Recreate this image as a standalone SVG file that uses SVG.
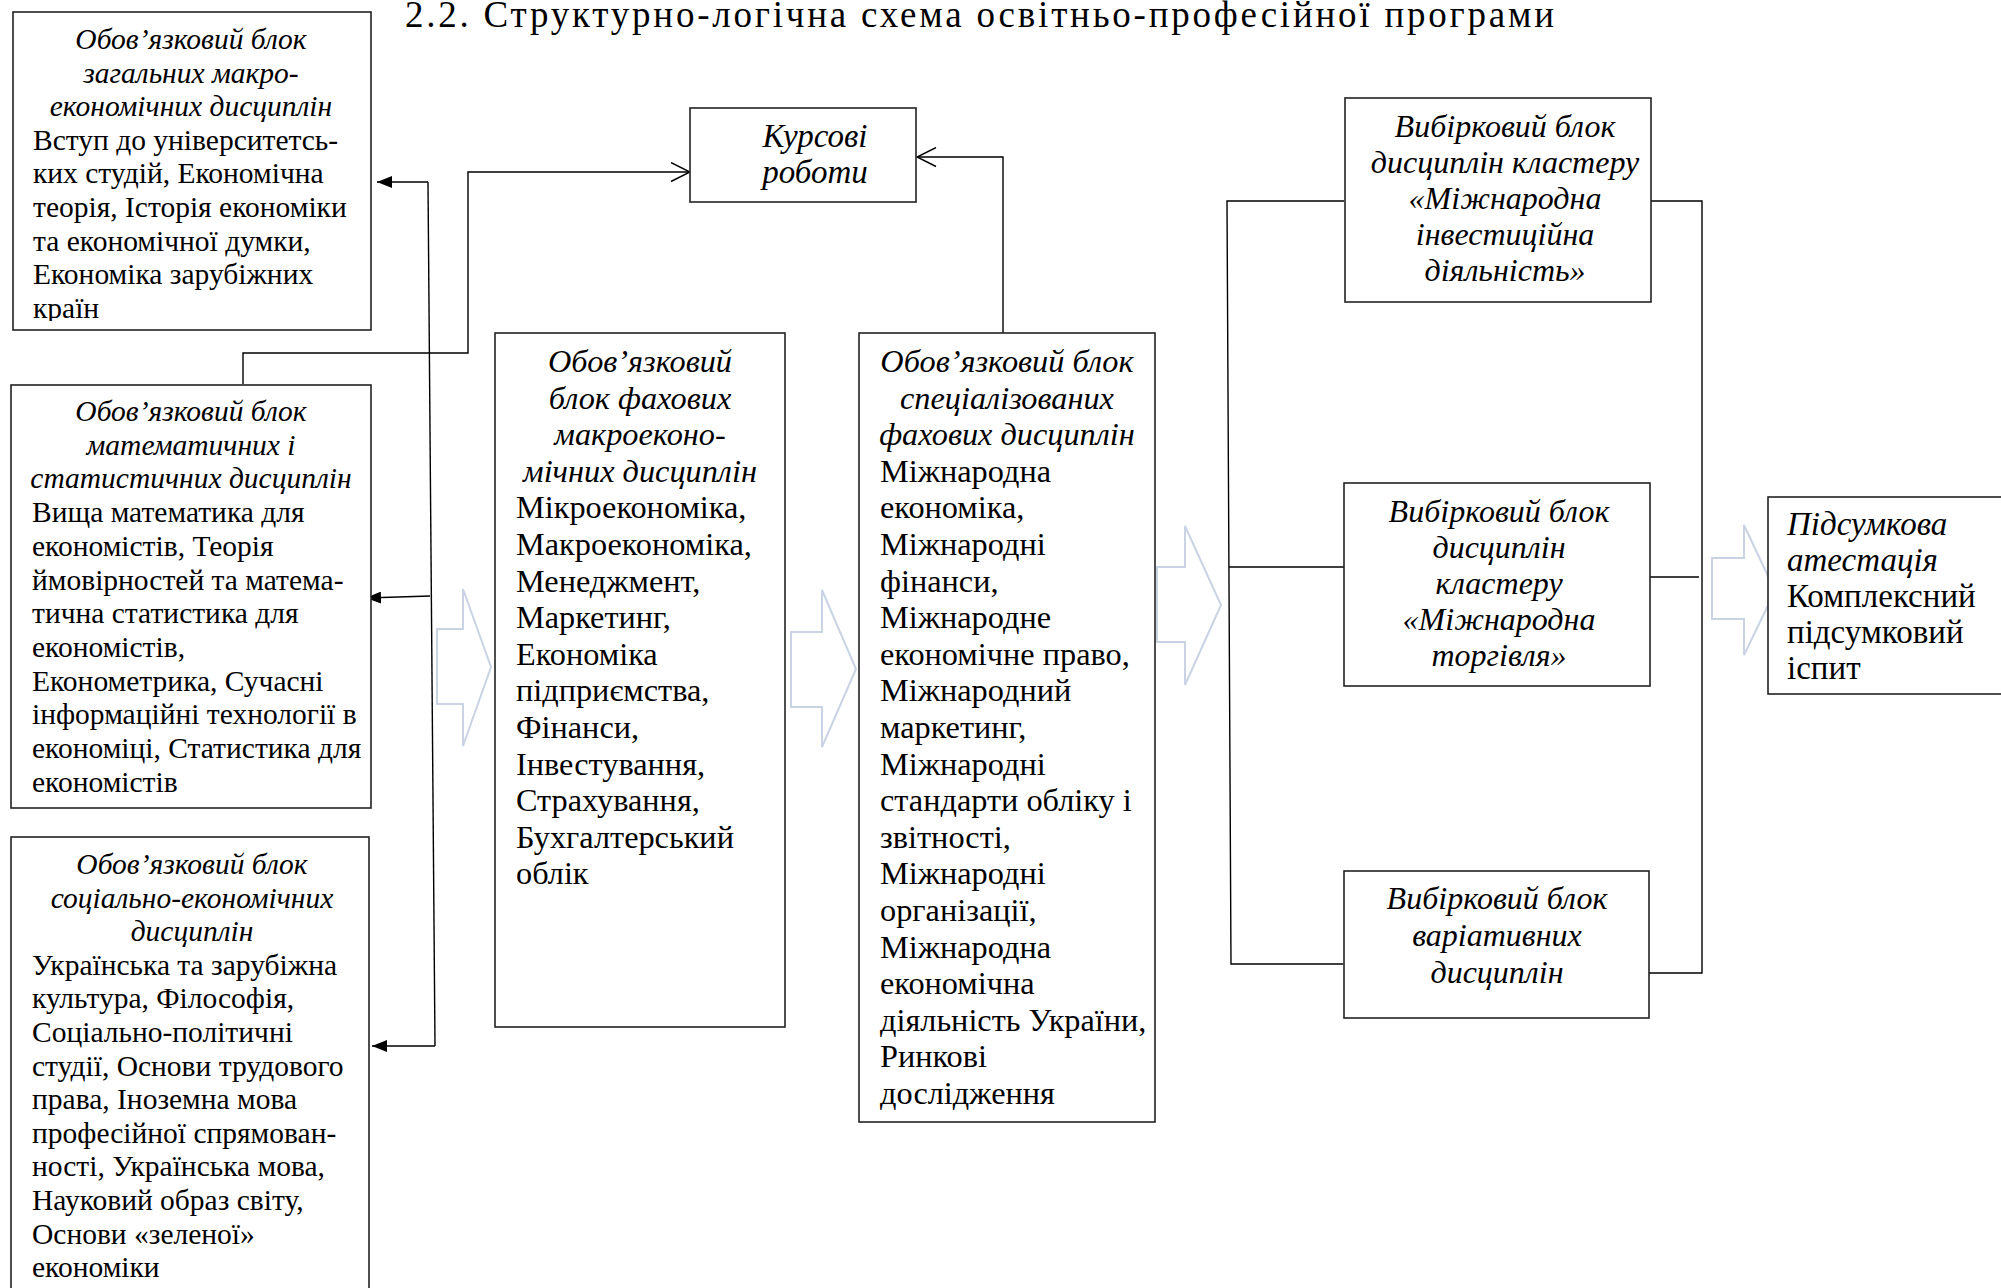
<svg xmlns="http://www.w3.org/2000/svg" width="2001" height="1288" viewBox="0 0 2001 1288">
<style>
.box{fill:#fff;stroke:#222;stroke-width:1.6}
.t{font-family:"Liberation Serif","Times New Roman",serif;fill:#000}
.s{font-size:29.5px}
.m{font-size:32.3px}
.r{font-size:32px}
.l{font-size:33px}
.i{font-style:italic}
.c{text-anchor:middle}
.ln{fill:none;stroke:#000;stroke-width:1.4}
.blk{fill:#fff;stroke:#c9d3e3;stroke-width:2}
</style>
<defs>
<marker id="fa" markerUnits="userSpaceOnUse" viewBox="0 0 15 12" refX="15" refY="6" markerWidth="15" markerHeight="12" orient="auto">
<path d="M0,0 L15,6 L0,12 z" fill="#000"/>
</marker>
<marker id="oa" markerUnits="userSpaceOnUse" viewBox="-1 -1 21 21" refX="19" refY="9.5" markerWidth="21" markerHeight="21" orient="auto">
<path d="M0,0 L19,9.5 L0,19" fill="none" stroke="#000" stroke-width="1.4"/>
</marker>
<clipPath id="clip1"><rect x="0" y="0" width="400" height="321"/></clipPath>
</defs>

<text class="t" x="405" y="27" font-size="37" textLength="1149" lengthAdjust="spacing">2.2. Структурно-логічна схема освітньо-професійної програми</text>

<g id="block-arrows">
<path class="blk" d="M437,629 L463,629 L463,589 L491,667 L463,746 L463,704 L437,704 Z"/>
<path class="blk" d="M791,632 L822,632 L822,590 L856,669 L822,747 L822,707 L791,707 Z"/>
<path class="blk" d="M1157,567 L1185,567 L1185,526 L1221,605 L1185,685 L1185,642 L1157,642 Z"/>
<path class="blk" d="M1712,558 L1744,558 L1744,525 L1775,591 L1744,655 L1744,619 L1712,619 Z"/>
</g>

<g id="connectors">
<path class="ln" d="M243,384 L243,353 L468,353 L468,172 L690,172" marker-end="url(#oa)"/>
<path class="ln" d="M1003,333 L1003,157 L917,157" marker-end="url(#oa)"/>
<path class="ln" d="M428,182 L435,1046"/>
<path class="ln" d="M428,182 L377,182" marker-end="url(#fa)"/>
<path class="ln" d="M430,596 L366,598" marker-end="url(#fa)"/>
<path class="ln" d="M435,1046 L372,1046" marker-end="url(#fa)"/>
<path class="ln" d="M1344,201 L1227,201 L1231,964 L1343,964"/>
<path class="ln" d="M1229,567 L1344,567"/>
<path class="ln" d="M1651,201 L1702,201 L1702,973 L1649,973"/>
<path class="ln" d="M1647,577 L1699,577"/>
</g>

<g id="node-macro-general">
<rect class="box" x="13" y="12" width="358" height="318"/>
<g clip-path="url(#clip1)">
<text class="t s i c" x="191" y="49">Обов’язковий блок</text>
<text class="t s i c" x="191" y="82.6">загальних макро-</text>
<text class="t s i c" x="191" y="116.2">економічних дисциплін</text>
<text class="t s" x="33" y="149.8">Вступ до університетсь-</text>
<text class="t s" x="33" y="183.4">ких студій, Економічна</text>
<text class="t s" x="33" y="217">теорія, Історія економіки</text>
<text class="t s" x="33" y="250.6">та економічної думки,</text>
<text class="t s" x="33" y="284.2">Економіка зарубіжних</text>
<text class="t s" x="33" y="317.8">країн</text>
</g>
</g>

<g id="node-math">
<rect class="box" x="11" y="385" width="360" height="423"/>
<text class="t s i c" x="191" y="421">Обов’язковий блок</text>
<text class="t s i c" x="191" y="454.7">математичних і</text>
<text class="t s i c" x="191" y="488.4">статистичних дисциплін</text>
<text class="t s" x="32" y="522.1">Вища математика для</text>
<text class="t s" x="32" y="555.8">економістів, Теорія</text>
<text class="t s" x="32" y="589.5">ймовірностей та  матема-</text>
<text class="t s" x="32" y="623.2">тична статистика для</text>
<text class="t s" x="32" y="656.9">економістів,</text>
<text class="t s" x="32" y="690.6">Економетрика, Сучасні</text>
<text class="t s" x="32" y="724.3">інформаційні технології в</text>
<text class="t s" x="32" y="758">економіці, Статистика для</text>
<text class="t s" x="32" y="791.7">економістів</text>
</g>

<g id="node-social">
<rect class="box" x="11" y="837" width="358" height="470"/>
<text class="t s i c" x="192" y="874">Обов’язковий блок</text>
<text class="t s i c" x="192" y="907.6">соціально-економічних</text>
<text class="t s i c" x="192" y="941.2">дисциплін</text>
<text class="t s" x="32" y="974.8">Українська та зарубіжна</text>
<text class="t s" x="32" y="1008.4">культура, Філософія,</text>
<text class="t s" x="32" y="1042">Соціально-політичні</text>
<text class="t s" x="32" y="1075.6">студії, Основи трудового</text>
<text class="t s" x="32" y="1109.2">права, Іноземна мова</text>
<text class="t s" x="32" y="1142.8">професійної спрямован-</text>
<text class="t s" x="32" y="1176.4">ності, Українська мова,</text>
<text class="t s" x="32" y="1210">Науковий образ світу,</text>
<text class="t s" x="32" y="1243.6">Основи «зеленої»</text>
<text class="t s" x="32" y="1277.2">економіки</text>
</g>

<g id="node-coursework">
<rect class="box" x="690" y="108" width="226" height="94"/>
<text class="t l i c" x="815" y="147">Курсові</text>
<text class="t l i c" x="815" y="183">роботи</text>
</g>

<g id="node-professional">
<rect class="box" x="495" y="333" width="290" height="694"/>
<text class="t m i c" x="640" y="372">Обов’язковий</text>
<text class="t m i c" x="640" y="408.6">блок фахових</text>
<text class="t m i c" x="640" y="445.2">макроеконо-</text>
<text class="t m i c" x="640" y="481.8">мічних дисциплін</text>
<text class="t m" x="516" y="518.4">Мікроекономіка,</text>
<text class="t m" x="516" y="555">Макроекономіка,</text>
<text class="t m" x="516" y="591.6">Менеджмент,</text>
<text class="t m" x="516" y="628.2">Маркетинг,</text>
<text class="t m" x="516" y="664.8">Економіка</text>
<text class="t m" x="516" y="701.4">підприємства,</text>
<text class="t m" x="516" y="738">Фінанси,</text>
<text class="t m" x="516" y="774.6">Інвестування,</text>
<text class="t m" x="516" y="811.2">Страхування,</text>
<text class="t m" x="516" y="847.8">Бухгалтерський</text>
<text class="t m" x="516" y="884.4">облік</text>
</g>

<g id="node-specialized">
<rect class="box" x="859" y="333" width="296" height="789"/>
<text class="t m i c" x="1007" y="372">Обов’язковий блок</text>
<text class="t m i c" x="1007" y="408.6">спеціалізованих</text>
<text class="t m i c" x="1007" y="445.2">фахових дисциплін</text>
<text class="t m" x="880" y="481.8">Міжнародна</text>
<text class="t m" x="880" y="518.4">економіка,</text>
<text class="t m" x="880" y="555">Міжнародні</text>
<text class="t m" x="880" y="591.6">фінанси,</text>
<text class="t m" x="880" y="628.2">Міжнародне</text>
<text class="t m" x="880" y="664.8">економічне право,</text>
<text class="t m" x="880" y="701.4">Міжнародний</text>
<text class="t m" x="880" y="738">маркетинг,</text>
<text class="t m" x="880" y="774.6">Міжнародні</text>
<text class="t m" x="880" y="811.2">стандарти обліку і</text>
<text class="t m" x="880" y="847.8">звітності,</text>
<text class="t m" x="880" y="884.4">Міжнародні</text>
<text class="t m" x="880" y="921">організації,</text>
<text class="t m" x="880" y="957.6">Міжнародна</text>
<text class="t m" x="880" y="994.2">економічна</text>
<text class="t m" x="880" y="1030.8">діяльність України,</text>
<text class="t m" x="880" y="1067.4">Ринкові</text>
<text class="t m" x="880" y="1104">дослідження</text>
</g>

<g id="node-cluster-investment">
<rect class="box" x="1345" y="98" width="306" height="204"/>
<text class="t r i c" x="1505" y="137">Вибірковий блок</text>
<text class="t r i c" x="1505" y="173">дисциплін кластеру</text>
<text class="t r i c" x="1505" y="209">«Міжнародна</text>
<text class="t r i c" x="1505" y="245">інвестиційна</text>
<text class="t r i c" x="1505" y="281">діяльність»</text>
</g>

<g id="node-cluster-trade">
<rect class="box" x="1344" y="483" width="306" height="203"/>
<text class="t r i c" x="1499" y="522">Вибірковий блок</text>
<text class="t r i c" x="1499" y="558">дисциплін</text>
<text class="t r i c" x="1499" y="594">кластеру</text>
<text class="t r i c" x="1499" y="630">«Міжнародна</text>
<text class="t r i c" x="1499" y="666">торгівля»</text>
</g>

<g id="node-variative">
<rect class="box" x="1344" y="871" width="305" height="147"/>
<text class="t r i c" x="1497" y="909">Вибірковий блок</text>
<text class="t r i c" x="1497" y="946">варіативних</text>
<text class="t r i c" x="1497" y="983">дисциплін</text>
</g>

<g id="node-attestation">
<rect class="box" x="1768" y="497" width="250" height="197"/>
<text class="t l i" x="1787" y="535">Підсумкова</text>
<text class="t l i" x="1787" y="571">атестація</text>
<text class="t l" x="1787" y="607">Комплексний</text>
<text class="t l" x="1787" y="643">підсумковий</text>
<text class="t l" x="1787" y="679">іспит</text>
</g>
</svg>
